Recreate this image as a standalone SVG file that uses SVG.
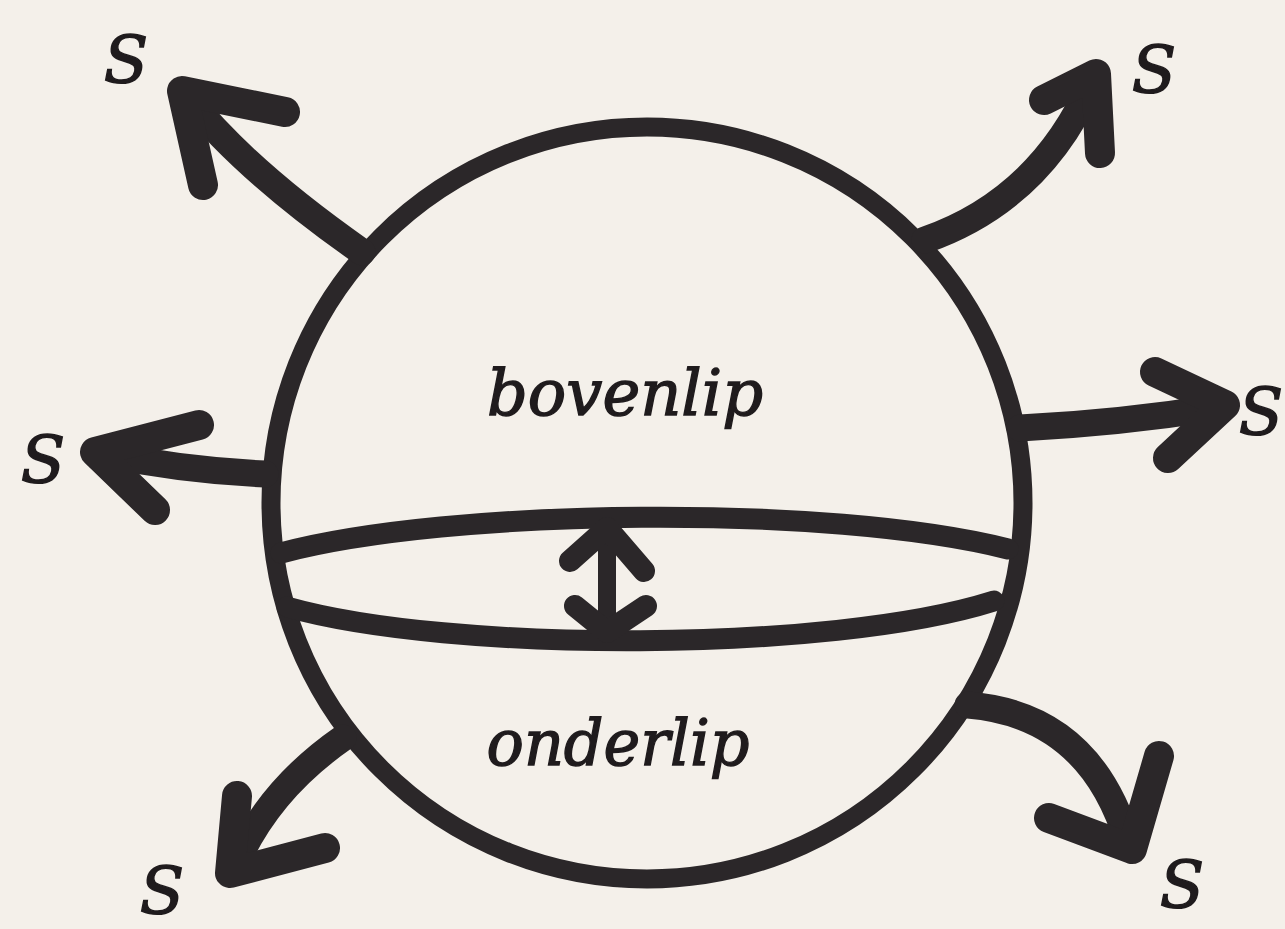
<svg xmlns="http://www.w3.org/2000/svg" width="1285" height="929" viewBox="0 0 1285 929">
<style>
.ink{fill:none;stroke:#2b2729;stroke-linecap:round;stroke-linejoin:round}
.ring{stroke-width:19}
.lip{stroke-width:21}
.shaft{stroke-width:27}
.barb{stroke-width:30}
.dshaft{stroke-width:18}
.dbarb{stroke-width:22}
.lbl{font-family:"DejaVu Serif","Liberation Serif",serif;font-style:italic;fill:#1f1b1d;stroke:#1f1b1d;stroke-width:1.4}
.s{font-size:65px}
.word{font-size:64px}
</style>
<rect width="1285" height="929" fill="#f4f0ea"/>
<g id="mouth">
<circle class="ink ring" cx="647" cy="503" r="376"/>
<path class="ink lip" d="M 281 553 C 450 508, 830 504, 1008 549"/>
<path class="ink lip" d="M 287 607 C 450 653, 830 653, 994 601"/>
<text class="lbl word" x="625" y="415" text-anchor="middle" textLength="276" lengthAdjust="spacingAndGlyphs">bovenlip</text>
<text class="lbl word" x="618" y="765" text-anchor="middle" textLength="263" lengthAdjust="spacingAndGlyphs">onderlip</text>
</g>
<g id="connectors">
<g id="gap-arrow">
<path class="ink dshaft" d="M 607 528 L 607 630"/>
<path class="ink dbarb" d="M 570 561 L 607 528 L 644 571"/>
<path class="ink dbarb" d="M 575 606 L 607 632 L 646 606"/>
</g>
<g id="arrow-tl">
<path class="ink shaft" d="M 362 252 Q 245 170 187 97"/>
<path class="ink barb" d="M 285 112 L 182 91 L 203 185"/>
</g>
<g id="arrow-tr">
<path class="ink shaft" d="M 925 240 Q 1040 200 1092 82"/>
<path class="ink barb" d="M 1044 100 L 1096 74 L 1100 153"/>
</g>
<g id="arrow-l">
<path class="ink shaft" d="M 265 474 Q 180 470 100 453"/>
<path class="ink barb" d="M 199 425 L 95 452 L 155 510"/>
</g>
<g id="arrow-r">
<path class="ink shaft" d="M 1020 428 Q 1120 423 1220 407"/>
<path class="ink barb" d="M 1155 372 L 1225 405 L 1168 458"/>
</g>
<g id="arrow-bl">
<path class="ink shaft" d="M 343 738 Q 268 790 235 866"/>
<path class="ink barb" d="M 237 796 L 230 873 L 325 848"/>
</g>
<g id="arrow-br">
<path class="ink shaft" d="M 968 705 Q 1090 715 1128 842"/>
<path class="ink barb" d="M 1159 756 L 1132 849 L 1049 818"/>
</g>
</g>
<g id="labels">
<text class="lbl s" x="126" y="83" text-anchor="middle">S</text>
<text class="lbl s" x="1154" y="93" text-anchor="middle">S</text>
<text class="lbl s" x="43" y="483" text-anchor="middle">S</text>
<text class="lbl s" x="1261" y="435" text-anchor="middle">S</text>
<text class="lbl s" x="162" y="914" text-anchor="middle">S</text>
<text class="lbl s" x="1182" y="908" text-anchor="middle">S</text>
</g>
</svg>
